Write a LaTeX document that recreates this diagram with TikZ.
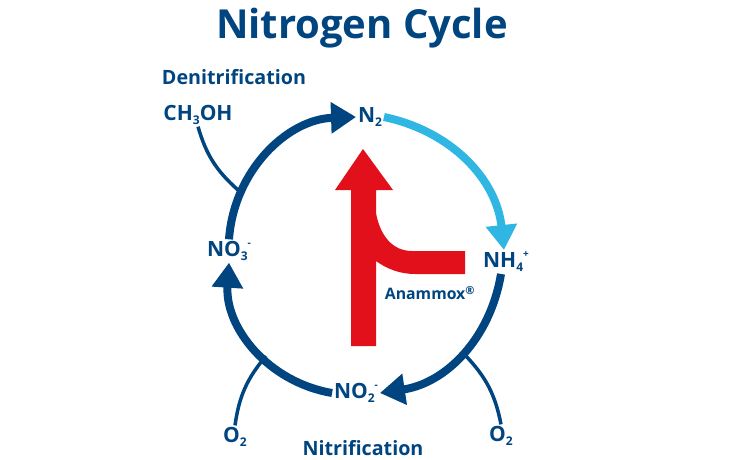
\documentclass[tikz,border=0pt]{standalone}
\usepackage{fontspec}
\setmainfont{Open Sans}
\usetikzlibrary{arrows.meta}
\definecolor{cycleblue}{RGB}{0,68,128}
\definecolor{cyclelight}{RGB}{48,182,226}
\definecolor{cyclered}{RGB}{226,16,26}
\newcommand{\chemsub}[1]{\raisebox{-4pt}{\fontsize{12}{12}\selectfont #1}}
\newcommand{\chemsup}[1]{\raisebox{10pt}{\fontsize{10}{10}\selectfont #1}}
\tikzstyle{chem} = [font=\fontsize{21}{23}\selectfont\bfseries,text=cycleblue,inner sep=2pt,outer sep=0pt]
\tikzstyle{heading} = [font=\fontsize{19.7}{22}\selectfont\bfseries,text=cycleblue,inner sep=0pt]
\tikzstyle{bigarrow} = [line width=8pt,draw=cycleblue,-{Triangle[width=30pt,length=25pt]}]
\tikzstyle{feed} = [line width=3.5pt,draw=cycleblue]

\begin{document}
\begin{tikzpicture}[x=1pt,y=-1pt]
	\useasboundingbox (0,0) rectangle (750,460);
	\node (title) [heading,font=\fontsize{40}{44}\selectfont\bfseries] at (362,28) {Nitrogen Cycle};
	\node (denit) [heading] at (234,77) {Denitrification};
	\node (nit) [heading] at (363,448) {Nitrification};
	\node (anammox) [heading,font=\fontsize{15.8}{18}\selectfont\bfseries] at (430,293) {Anammox\textsuperscript{®}};
	\node (ch3oh) [chem] at (198,115) {CH\chemsub{3}OH};
	\node (n2) [chem] at (370,117) {N\chemsub{2}};
	\node (nh4) [chem] at (506,262) {NH\chemsub{4}\chemsup{+}};
	\node (no3) [chem] at (229,251) {NO\chemsub{3}\chemsup{-}};
	\node (no2) [chem] at (356,393) {NO\chemsub{2}\chemsup{-}};
	\node (o2l) [chem] at (235,437) {O\chemsub{2}};
	\node (o2r) [chem] at (501,436) {O\chemsub{2}};
	\coordinate (hitch) at (238,190);
	\coordinate (hitl) at (266,356);
	\coordinate (hitr) at (466,356);
	\draw [feed] (hitl) to[bend right=16] (o2l.north);
	\draw [feed] (hitr) to[bend left=16] (o2r.north);
	\draw [feed] (ch3oh.south) to[bend right=16] (hitch);
	\draw [bigarrow] (no3.north) to[bend left=42] (n2.west);
	\draw [bigarrow,draw=cyclelight] (n2.east) to[bend left=36] ([xshift=-2pt]nh4.north);
	\draw [bigarrow] ([xshift=-5pt]nh4.south) to[bend left=36] (no2.east);
	\draw [bigarrow] (no2.west) to[bend left=42] (no3.south);
	\fill [cyclered] (363,149) -- (393,190) -- (376,190) -- (376,213)
		.. controls (380,235) and (392,251) .. (412,251)
		-- (465,251) -- (465,274) -- (415,274)
		.. controls (400,274) and (387,269) .. (376,261)
		-- (376,346) -- (351,346) -- (351,190) -- (335,190) -- cycle;
\end{tikzpicture}
\end{document}
